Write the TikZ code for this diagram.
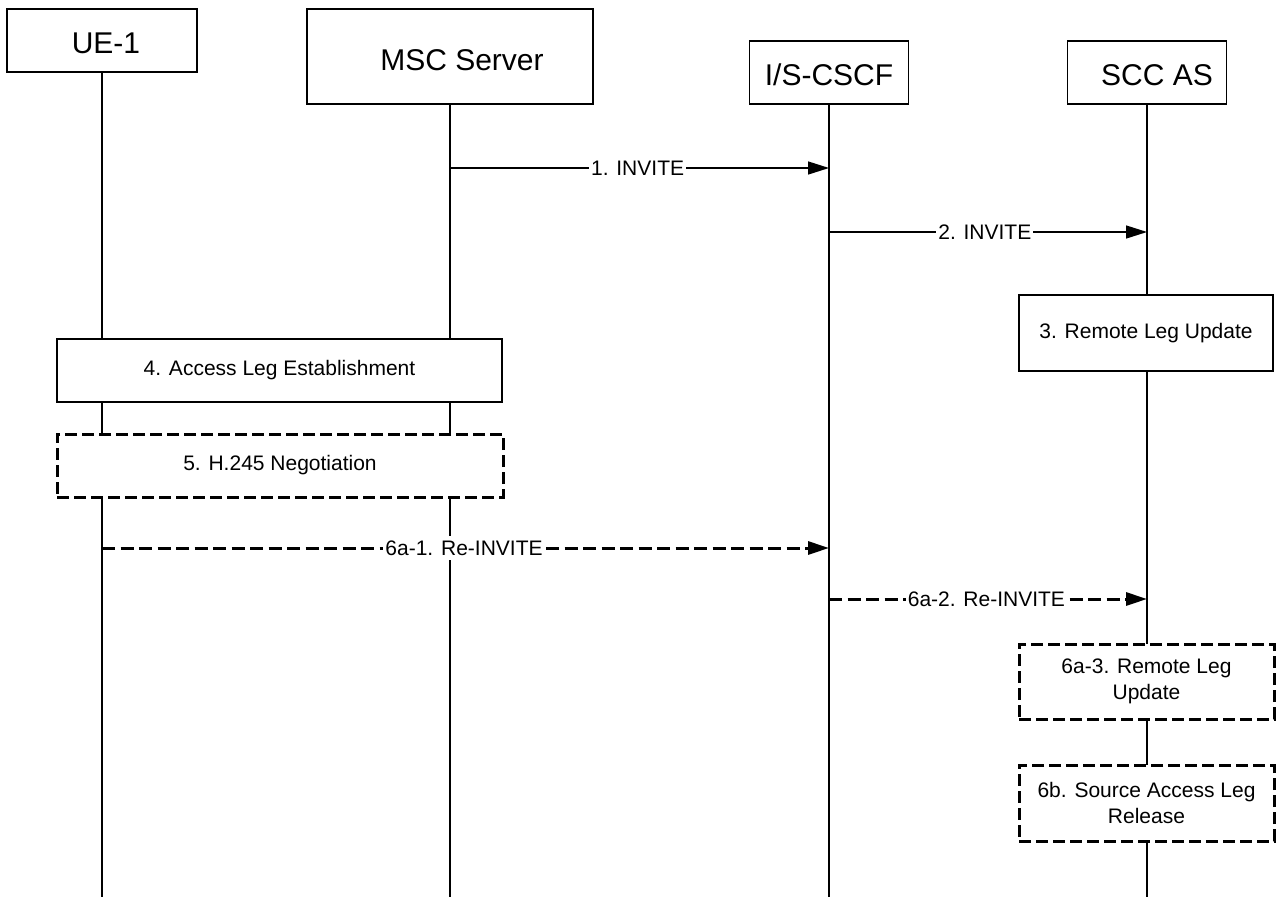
\documentclass[tikz,border=0pt]{standalone}
\usepackage{fontspec}
\setmainfont{Liberation Sans}
\usetikzlibrary{arrows.meta}
\begin{document}
\begin{tikzpicture}[x=1pt,y=-1pt,
  hdr/.style={draw,line width=1.6pt,fill=white,inner sep=0pt,text depth=0pt,font=\fontsize{30}{36}\selectfont},
  procbox/.style={draw,line width=1.6pt,fill=white,inner sep=0pt,align=center,font=\fontsize{21}{26}\selectfont},
  optbox/.style={procbox,line width=3pt,dash pattern=on 12pt off 5pt},
  life/.style={line width=1.4pt},
  msg/.style={line width=1.4pt,-{Triangle[length=21pt,width=13pt]}},
  optmsg/.style={msg,line width=3pt,dash pattern=on 13pt off 5.5pt},
  lbl/.style={fill=white,inner xsep=2pt,inner ysep=5pt,font=\fontsize{21}{26}\selectfont},
]
\useasboundingbox (0,0) rectangle (1276,897);
\fill[white] (0,0) rectangle (1276,897);

% headers
\node[hdr,minimum width=190pt,minimum height=63pt,text height=25.5pt] (ue) at (102,40.5) {\hspace*{8pt}UE-1};
\node[hdr,minimum width=286pt,minimum height=95pt,text height=28.5pt] (msc) at (450,56.5) {\hspace*{24pt}MSC Server};
\node[hdr,minimum width=159pt,minimum height=63pt,text height=26.5pt] (cscf) at (829,72.5) {I/S-CSCF};
\node[hdr,minimum width=159pt,minimum height=63pt,text height=26.5pt] (scc) at (1147,72.5) {\hspace*{20pt}SCC AS};

% lifeline ends
\coordinate (ue-b) at (ue.south |- 0,897);
\coordinate (msc-b) at (msc.south |- 0,897);
\coordinate (cscf-b) at (cscf.south |- 0,897);
\coordinate (scc-b) at (scc.south |- 0,897);
\draw[life] (ue.south) -- (ue-b);
\draw[life] (msc.south) -- (msc-b);
\draw[life] (cscf.south) -- (cscf-b);
\draw[life] (scc.south) -- (scc-b);

% boxes
\node[procbox,minimum width=254pt,minimum height=76pt] (b3) at (1146,333) {3. Remote Leg Update};
\node[procbox,minimum width=445pt,minimum height=63pt] (b4) at (279.5,370.5) {4. Access Leg Establishment};
\node[optbox,minimum width=446pt,minimum height=63pt] (b5) at (280,465.5) {5. H.245 Negotiation};
\node[optbox,minimum width=255pt,minimum height=75pt] (b6a3) at (1146.5,681.5) {6a-3. Remote Leg\\Update};
\node[optbox,minimum width=255pt,minimum height=76pt] (b6b) at (1146.5,803) {6b. Source Access Leg\\Release};

% messages
\coordinate (m1a) at (msc.south |- 0,168);
\coordinate (m1b) at (cscf.south |- 0,168);
\draw[msg] (m1a) -- node[lbl,pos=0.495] (l1) {1. INVITE} (m1b);

\coordinate (m2a) at (cscf.south |- 0,232);
\coordinate (m2b) at (scc.south |- 0,232);
\draw[msg] (m2a) -- node[lbl,pos=0.49] (l2) {2. INVITE} (m2b);

\coordinate (m6a) at (ue.south |- 0,548);
\coordinate (m6b) at (cscf.south |- 0,548);
\draw[optmsg] (m6a) -- node[lbl,pos=0.498] (l61) {6a-1. Re-INVITE} (m6b);

\coordinate (m7a) at (cscf.south |- 0,599);
\coordinate (m7b) at (scc.south |- 0,599);
\draw[optmsg] (m7a) -- node[lbl,pos=0.495] (l62) {6a-2. Re-INVITE} (m7b);
\end{tikzpicture}
\end{document}
